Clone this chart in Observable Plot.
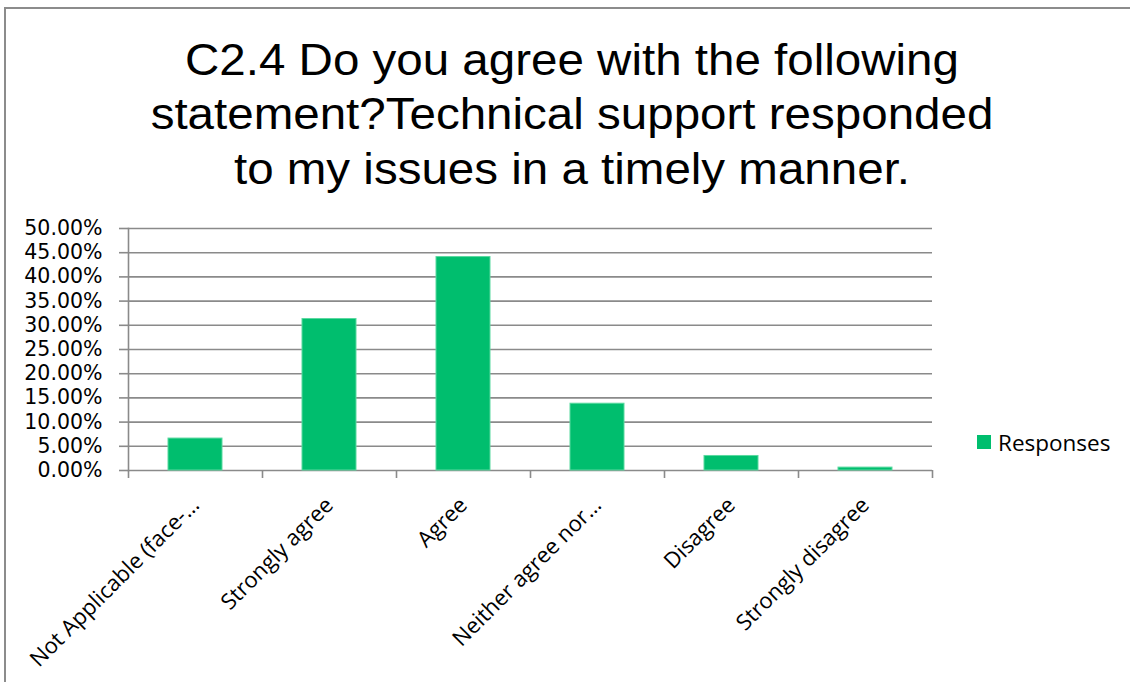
<!DOCTYPE html>
<html><head><meta charset="utf-8">
<script src="https://cdn.jsdelivr.net/npm/d3@7"></script>
<script src="https://cdn.jsdelivr.net/npm/@observablehq/plot@0.6"></script>
<style>
body{margin:0;background:#fff;}
#wrap{position:relative;width:1130px;height:682px;overflow:hidden;background:#fff;}
#border{position:absolute;left:4px;top:7px;width:1140px;height:700px;border-top:2px solid #8c8c8c;border-left:2px solid #8c8c8c;}
#title{position:absolute;left:0;top:32.5px;width:1144px;text-align:center;font-family:"Liberation Sans",Arial,sans-serif;font-size:44px;line-height:54.5px;color:#000;transform:scaleX(1.08);transform-origin:572px 0;}
#chart{position:absolute;left:0;top:0;}
#legend{position:absolute;left:977px;top:429px;font-family:"Open Sans",sans-serif;font-size:22.5px;color:#000;display:flex;align-items:center;height:26px;}
#legend span.sw{display:inline-block;width:14px;height:14px;background:#00BE6E;margin-right:7px;}
</style>
</head><body>
<div id="wrap">
<div id="border"></div>
<div id="chart"></div>
<div id="title">C2.4 Do you agree with the following<br>statement?Technical support responded<br>to my issues in a timely manner.</div>
<div id="legend"><span class="sw"></span><span id="legtext"></span></div>
</div>
<script>
const categories = ["Not Applicable (face-…", "Strongly agree", "Agree", "Neither agree nor…", "Disagree", "Strongly disagree"];
const values = [0.066, 0.313, 0.441, 0.138, 0.030, 0.006];
const yTicks = [0, 0.05, 0.10, 0.15, 0.20, 0.25, 0.30, 0.35, 0.40, 0.45, 0.50];
const seriesName = "Responses";

const data = categories.map((c, i) => ({category: c, value: values[i]}));
document.getElementById("legtext").textContent = seriesName;

const W = 1130, H = 682, ML = 128, MR = 198, MT = 228, MB = 212;
const half = (W - ML - MR) / categories.length / 2;
const grid = "#8a8a8a";

const chart = Plot.plot({
  width: W, height: H,
  marginLeft: ML, marginRight: MR, marginTop: MT, marginBottom: MB,
  style: {fontFamily: "'Open Sans', sans-serif", background: "transparent", overflow: "visible", color: "#000"},
  x: {domain: categories, paddingInner: 0.597, paddingOuter: 0.2985},
  y: {domain: [0, 0.5]},
  marks: [
    Plot.gridY(yTicks, {stroke: grid, strokeOpacity: 1, strokeWidth: 1.6}),
    Plot.frame({anchor: "left", stroke: grid, strokeWidth: 1.6}),
    Plot.axisY(yTicks, {tickFormat: d => (d * 100).toFixed(2) + "%", tickSize: 9, tickPadding: 17, fontSize: 20.5, fontFamily: "'DejaVu Sans', sans-serif", stroke: grid, strokeWidth: 1.6, fill: "#000", label: null}),
    Plot.barY(data, {x: "category", y: "value", fill: "#00BE6E", stroke: "#5ad9a0", strokeWidth: 1}),
    Plot.axisX({text: null, tickSize: 8, dx: -half, stroke: grid, strokeWidth: 1.6, label: null}),
    Plot.axisX([categories[categories.length - 1]], {text: null, tickSize: 8, dx: half, stroke: grid, strokeWidth: 1.6, label: null}),
    Plot.axisX({tickSize: 0, tickRotate: -45, tickPadding: 31, fontSize: 22, fill: "#000", label: null})
  ]
});
document.getElementById("chart").appendChild(chart);
</script>
</body></html>
